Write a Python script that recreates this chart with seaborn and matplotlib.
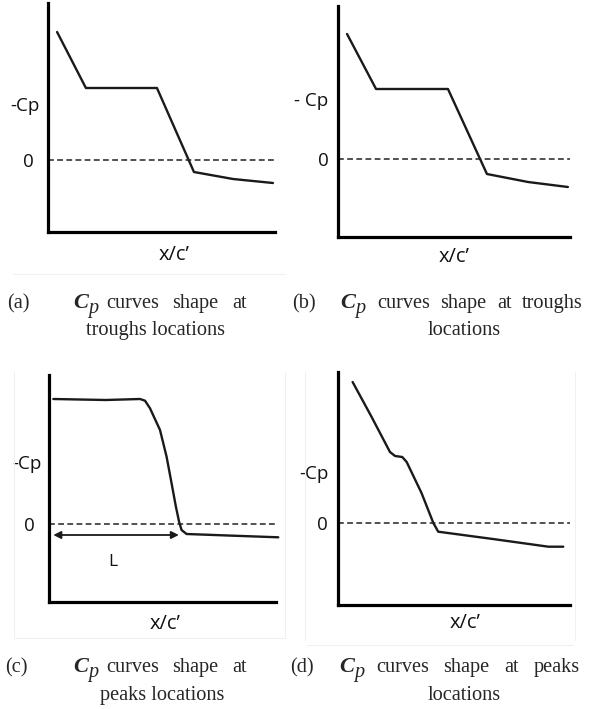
import numpy as np
import pandas as pd
import matplotlib
matplotlib.use("Agg")
import matplotlib.pyplot as plt
import seaborn as sns

# ---------------- data (x/c' fraction, -Cp in arbitrary units, 0 = dashed line)
a_x = [0.040, 0.167, 0.480, 0.643, 0.815, 0.991]
a_y = [1.28, 0.72, 0.72, -0.12, -0.19, -0.23]

b_x = [0.039, 0.164, 0.474, 0.642, 0.819, 0.991]
b_y = [1.25, 0.70, 0.70, -0.15, -0.23, -0.28]

c_x = [0.019, 0.250, 0.401, 0.423, 0.445, 0.489, 0.518, 0.540, 0.559, 0.573, 0.584, 0.606, 0.812, 1.010]
c_y = [1.25, 1.24, 1.25, 1.233, 1.157, 0.94, 0.673, 0.407, 0.173, 0.023, -0.06, -0.10, -0.117, -0.133]

d_x = [0.063, 0.145, 0.224, 0.246, 0.277, 0.296, 0.360, 0.411, 0.432, 0.677, 0.907, 0.971]
d_y = [1.41, 1.06, 0.71, 0.67, 0.66, 0.61, 0.30, 0.0, -0.087, -0.163, -0.237, -0.237]

cp_tick = {"a": 0.56, "b": 0.60, "c": 0.62, "d": 0.51}
cp_label = {"a": "-Cp", "b": "- Cp", "c": "-Cp", "d": "-Cp"}
L_arrow_x = [0.019, 0.572]
L_arrow_y = -0.11
x_label = "x/c\u2019"

captions = {
    "a": ("(a)", "curves shape at", "troughs locations"),
    "b": ("(b)", "curves shape at troughs", "locations"),
    "c": ("(c)", "curves shape at", "peaks locations"),
    "d": ("(d)", "curves shape at peaks", "locations"),
}

# ---------------- style
sns.set_style("white")
plt.rcParams["font.family"] = ["Open Sans", "DejaVu Sans"]
plt.rcParams["mathtext.fontset"] = "stix"

W, H = 590, 709
fig = plt.figure(figsize=(W / 100, H / 100), dpi=100)
fig.patch.set_facecolor("white")


def px_axes(l, t, r, b):
    return fig.add_axes([l / W, 1 - b / H, (r - l) / W, (b - t) / H])


panels = {
    "a": dict(box=(48, 3, 275, 232, 160), xl=(0.555, -0.055), pads=(6.0, 10.0), data=(a_x, a_y)),
    "b": dict(box=(338, 6, 570, 237, 159), xl=(0.50, -0.042), pads=(7.0, 7.0), data=(b_x, b_y)),
    "c": dict(box=(49, 375, 276, 602, 524), xl=(0.511, -0.055), pads=(5.0, 10.0), data=(c_x, c_y)),
    "d": dict(box=(338, 372, 570, 605, 523), xl=(0.547, -0.033), pads=(7.0, 7.5), data=(d_x, d_y)),
}

for key, p in panels.items():
    l, t, r, b, z = p["box"]
    ax = px_axes(l, t, r, b)
    ax.set_facecolor("none")
    xs, ys = p["data"]
    df = pd.DataFrame({"x": xs, "y": ys})
    sns.lineplot(data=df, x="x", y="y", ax=ax, color="#1a1a1a", linewidth=1.7,
                 sort=False, estimator=None, clip_on=False)
    ax.axhline(0, color="#222222", linewidth=1.1, dashes=(3.8, 2.2))
    ax.set_xlim(0, 1)
    ax.set_ylim((z - b) / 100, (z - t) / 100)
    for s in ["top", "right"]:
        ax.spines[s].set_visible(False)
    for s in ["left", "bottom"]:
        ax.spines[s].set_linewidth(2.3)
        ax.spines[s].set_color("black")
        ax.spines[s].set_capstyle("projecting")
    ax.set_xticks([])
    ax.set_yticks([cp_tick[key], 0])
    ax.set_yticklabels([cp_label[key], "0"], fontsize=13.5)
    ax.tick_params(axis="y", length=0, colors="#111111")
    ticks = ax.yaxis.get_major_ticks()
    ticks[0].set_pad(p["pads"][0])
    ticks[1].set_pad(p["pads"][1])
    ax.set_ylabel("")
    ax.set_xlabel(x_label, fontsize=14.5, color="#111111")
    ax.xaxis.set_label_coords(*p["xl"])
    if key == "c":
        ax.annotate("", xy=(L_arrow_x[0], L_arrow_y), xytext=(L_arrow_x[1], L_arrow_y),
                    arrowprops=dict(arrowstyle="<|-|>", color="#1a1a1a", lw=1.3,
                                    mutation_scale=11, shrinkA=0, shrinkB=0))
        ax.text(0.282, -0.38, "L", fontsize=12.5, ha="center", va="center", color="#111111")

# faint image-border remnants
faint = "#f0f0f0"
for (x0, y0, x1, y1) in [(13, 274, 285, 274), (14, 372, 14, 638), (285, 372, 285, 638),
                         (14, 638, 285, 638), (305, 372, 305, 640), (575, 372, 575, 640),
                         (307, 645, 573, 645)]:
    fig.add_artist(plt.Line2D([x0 / W, x1 / W], [1 - y0 / H, 1 - y1 / H],
                              color=faint, linewidth=0.8))

# captions (justified first line, centred second line)
serif = ["Liberation Serif", "DejaVu Serif"]
FS = 14.6
cap_pos = {
    # tag x, C x, words start x, words end x, baseline 1, line2 centre, baseline 2
    "a": (7, 73, 106, 247, 308, 156, 335),
    "b": (292, 340, 377, 583, 308, 464, 335),
    "c": (5, 73, 106, 247, 672, 162, 700),
    "d": (290, 339, 376, 580, 672, 464, 700),
}
renderer = fig.canvas.get_renderer()
for key, (tag, words, line2) in captions.items():
    tx, cx, ws, we, y1, l2x, y2 = cap_pos[key]
    fig.text(tx / W, 1 - y1 / H, tag, family=serif, fontsize=FS, ha="left", va="baseline")
    fig.text(cx / W, 1 - y1 / H, "C", family=serif, fontsize=FS + 1.5, style="italic",
             weight="bold", ha="left", va="baseline")
    fig.text((cx + 15) / W, 1 - (y1 + 4.5) / H, "p", family=serif, fontsize=FS,
             style="italic", ha="left", va="baseline")
    wl = words.split(" ")
    arts = [fig.text(0, 1 - y1 / H, w, family=serif, fontsize=FS, ha="left", va="baseline")
            for w in wl]
    widths = [a.get_window_extent(renderer).width for a in arts]
    gap = (we - ws - sum(widths)) / max(len(wl) - 1, 1)
    x = ws
    for a, w in zip(arts, widths):
        a.set_x(x / W)
        x += w + gap
    fig.text(l2x / W, 1 - y2 / H, line2, family=serif, fontsize=FS, ha="center", va="baseline")

fig.savefig("out.png", dpi=100, facecolor="white")
